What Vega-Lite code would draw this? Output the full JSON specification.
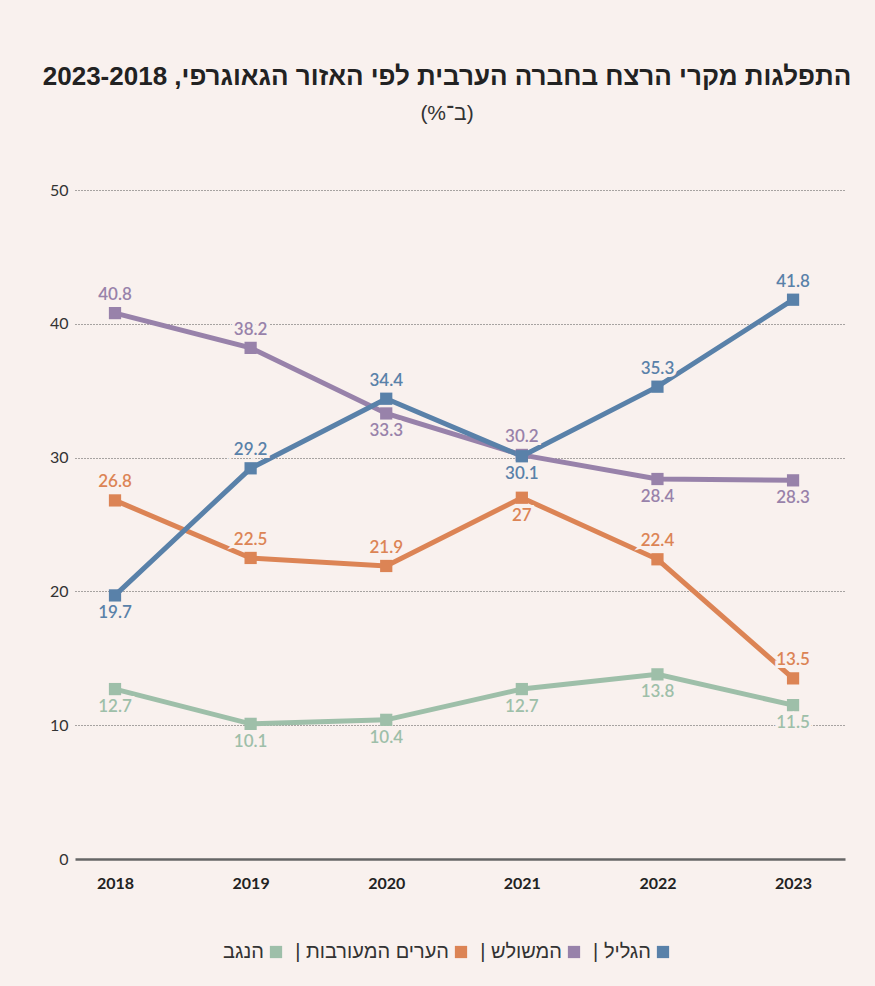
{
  "$schema": "https://vega.github.io/schema/vega-lite/v6.json",
  "width": 770,
  "height": 669,
  "autosize": {"type": "none"},
  "padding": {"left": 75, "top": 190, "right": 30, "bottom": 127},
  "background": "#f9f1ee",
  "title": {
    "text": "\u202Bהתפלגות מקרי הרצח בחברה הערבית לפי האזור הגאוגרפי, 2023-2018\u202C",
    "subtitle": "\u202B(ב־%)\u202C",
    "anchor": "middle",
    "dx": -13,
    "offset": 58,
    "font": "Liberation Sans",
    "fontSize": 26,
    "fontWeight": "bold",
    "color": "#222222",
    "subtitleFont": "Liberation Sans",
    "subtitleFontSize": 21,
    "subtitleColor": "#333333",
    "subtitlePadding": 13
  },
  "config": {
    "view": {"stroke": null},
    "axis": {"domain": false, "ticks": false, "title": null}
  },
  "data": {
    "values": [
      {"year": 2018, "region": "הנגב", "value": 12.7},
      {"year": 2019, "region": "הנגב", "value": 10.1},
      {"year": 2020, "region": "הנגב", "value": 10.4},
      {"year": 2021, "region": "הנגב", "value": 12.7},
      {"year": 2022, "region": "הנגב", "value": 13.8},
      {"year": 2023, "region": "הנגב", "value": 11.5},
      {"year": 2018, "region": "הערים המעורבות", "value": 26.8},
      {"year": 2019, "region": "הערים המעורבות", "value": 22.5},
      {"year": 2020, "region": "הערים המעורבות", "value": 21.9},
      {"year": 2021, "region": "הערים המעורבות", "value": 27},
      {"year": 2022, "region": "הערים המעורבות", "value": 22.4},
      {"year": 2023, "region": "הערים המעורבות", "value": 13.5},
      {"year": 2018, "region": "המשולש", "value": 40.8},
      {"year": 2019, "region": "המשולש", "value": 38.2},
      {"year": 2020, "region": "המשולש", "value": 33.3},
      {"year": 2021, "region": "המשולש", "value": 30.2},
      {"year": 2022, "region": "המשולש", "value": 28.4},
      {"year": 2023, "region": "המשולש", "value": 28.3},
      {"year": 2018, "region": "הגליל", "value": 19.7},
      {"year": 2019, "region": "הגליל", "value": 29.2},
      {"year": 2020, "region": "הגליל", "value": 34.4},
      {"year": 2021, "region": "הגליל", "value": 30.1},
      {"year": 2022, "region": "הגליל", "value": 35.3},
      {"year": 2023, "region": "הגליל", "value": 41.8}
    ]
  },
  "encoding": {
    "x": {
      "field": "year",
      "type": "quantitative",
      "scale": {"domain": [2017.705, 2023.383], "nice": false, "zero": false},
      "axis": {
        "values": [2018, 2019, 2020, 2021, 2022, 2023],
        "format": "d",
        "grid": false,
        "labelFont": "Lato",
        "labelFontWeight": "bold",
        "labelFontSize": 16,
        "labelColor": "#222222",
        "labelPadding": 16
      }
    },
    "y": {
      "field": "value",
      "type": "quantitative",
      "scale": {"domain": [0, 50], "nice": false},
      "axis": {
        "values": [0, 10, 20, 30, 40, 50],
        "grid": true,
        "gridColor": {"condition": {"test": "datum.value === 0", "value": "#666666"}, "value": "#555555"},
        "gridDash": {"condition": {"test": "datum.value === 0", "value": []}, "value": [1, 2]},
        "gridWidth": {"condition": {"test": "datum.value === 0", "value": 2.5}, "value": 1},
        "labelFont": "Lato",
        "labelFontSize": 16,
        "labelColor": "#333333",
        "labelPadding": 7
      }
    },
    "color": {
      "field": "region",
      "type": "nominal",
      "scale": {
        "domain": ["הנגב", "הערים המעורבות", "המשולש", "הגליל"],
        "range": ["#9ebfa9", "#dc8455", "#9882aa", "#5981a9"]
      },
      "legend": null
    }
  },
  "layer": [
    {
      "mark": {"type": "line", "strokeWidth": 5},
      "encoding": {
        "color": {
          "field": "region",
          "type": "nominal",
          "legend": {
            "orient": "none",
            "legendX": 191,
            "legendY": 752,
            "direction": "horizontal",
            "title": null,
            "symbolType": "square",
            "symbolSize": 150,
            "symbolStrokeWidth": 0,
            "symbolOpacity": 1,
            "labelFont": "Liberation Sans",
            "labelFontSize": 20,
            "labelColor": "#333333",
            "labelAlign": "right",
            "labelOffset": -22,
            "labelLimit": 300,
            "columnPadding": 12,
            "labelExpr": "datum.label === 'הנגב' ? datum.label : '| ' + datum.label"
          }
        }
      }
    },
    {
      "mark": {"type": "point", "shape": "square", "size": 150, "filled": true, "opacity": 1}
    },
    {
      "transform": [{"filter": "!((datum.region === 'הגליל' && (datum.year === 2018 || datum.year === 2021)) || (datum.region === 'המשולש' && (datum.year === 2020 || datum.year >= 2022)) || (datum.region === 'הערים המעורבות' && datum.year === 2021) || datum.region === 'הנגב')"}],
      "mark": {"type": "text", "dy": -18, "font": "Lato", "fontSize": 17, "fontWeight": 600, "stroke": "#f9f1ee", "strokeWidth": 6, "fill": "#f9f1ee"},
      "encoding": {"text": {"field": "value", "type": "quantitative"}, "color": {"value": "#f9f1ee"}}
    },
    {
      "transform": [{"filter": "(datum.region === 'הגליל' && (datum.year === 2018 || datum.year === 2021)) || (datum.region === 'המשולש' && (datum.year === 2020 || datum.year >= 2022)) || (datum.region === 'הערים המעורבות' && datum.year === 2021) || datum.region === 'הנגב'"}],
      "mark": {"type": "text", "dy": 18, "font": "Lato", "fontSize": 17, "fontWeight": 600, "stroke": "#f9f1ee", "strokeWidth": 6, "fill": "#f9f1ee"},
      "encoding": {"text": {"field": "value", "type": "quantitative"}, "color": {"value": "#f9f1ee"}}
    },
    {
      "transform": [{"filter": "!((datum.region === 'הגליל' && (datum.year === 2018 || datum.year === 2021)) || (datum.region === 'המשולש' && (datum.year === 2020 || datum.year >= 2022)) || (datum.region === 'הערים המעורבות' && datum.year === 2021) || datum.region === 'הנגב')"}],
      "mark": {"type": "text", "dy": -18, "font": "Lato", "fontSize": 17, "fontWeight": 600},
      "encoding": {"text": {"field": "value", "type": "quantitative"}}
    },
    {
      "transform": [{"filter": "(datum.region === 'הגליל' && (datum.year === 2018 || datum.year === 2021)) || (datum.region === 'המשולש' && (datum.year === 2020 || datum.year >= 2022)) || (datum.region === 'הערים המעורבות' && datum.year === 2021) || datum.region === 'הנגב'"}],
      "mark": {"type": "text", "dy": 18, "font": "Lato", "fontSize": 17, "fontWeight": 600},
      "encoding": {"text": {"field": "value", "type": "quantitative"}}
    }
  ]
}
